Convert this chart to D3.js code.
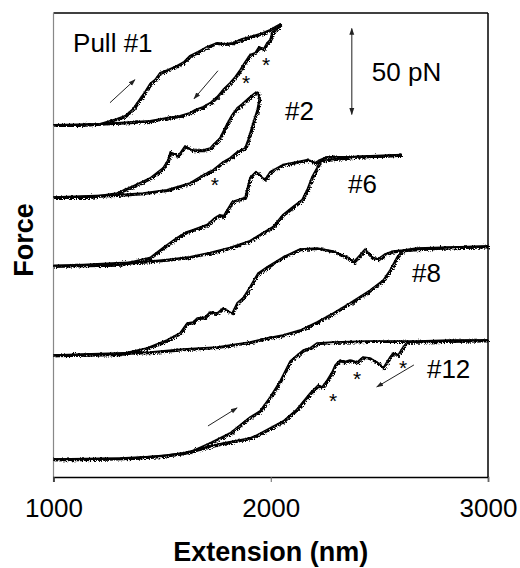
<!DOCTYPE html>
<html>
<head>
<meta charset="utf-8">
<script src="https://cdn.jsdelivr.net/npm/d3@7"></script>
<style>
  body { margin: 0; background: #fff; }
  text { font-family: "Liberation Sans", Arial, sans-serif; fill: #000; }
</style>
</head>
<body>
<svg id="chart" width="520" height="568"></svg>
<script>
// x ticks (nm)
const xTicks = [1000, 2000, 3000]

// pull names and vertical offsets of each trace baseline (pN)
const pulls = ["Pull #1", "#2", "#6", "#8", "#12"]
const offsets = [205, 163, 123, 71, 10.5]

// traces: [extension nm, force pN above baseline]
const pull1Out = [[1000,0],[1122,0],[1214,0.6],[1292,3.5],[1329,5.2],[1366,9.3],[1398,15.1],[1421,19.2],[1444,23.9],[1467,26.2],[1490,30.3],[1527,32],[1568,34.3],[1601,36.7],[1628,40.2],[1665,42.5],[1707,45.4],[1753,47.7],[1789,47.1],[1826,47.7],[1868,50],[1904,51.2],[1964,53.5],[1997,55.3],[2029,57.6],[2047,58.8]]
const pull1Back = [[2047,58.8],[2024,55.3],[2006,54],[1997,49.5],[1983,47.7],[1964,43.6],[1946,45.4],[1928,41.9],[1904,40.7],[1882,36.7],[1859,32],[1836,27.9],[1812,24.4],[1780,20.4],[1753,16.3],[1721,12.8],[1689,10.5],[1652,8.7],[1628,7],[1582,5.2],[1522,4.1],[1444,2.3],[1366,1.7],[1214,0.6],[1000,0]]

const pull2Out = [[1000,0],[1168,0],[1292,2.3],[1366,6.4],[1444,11],[1504,16.9],[1527,21.5],[1537,26.2],[1573,23.9],[1605,29.7],[1637,27.3],[1688,27.3],[1721,28.5],[1734,30.3],[1766,34.3],[1798,42.5],[1821,47.7],[1845,51.8],[1868,54.1],[1904,58.2],[1927,60.5],[1941,61.1]]
const pull2Back = [[1941,61.1],[1946,56.4],[1937,50.6],[1918,43],[1895,33.2],[1881,28.5],[1845,26.2],[1812,22.7],[1780,20.4],[1734,15.7],[1689,12.8],[1628,8.1],[1522,4.1],[1412,2.3],[1292,1.2],[1000,0]]

const pull6Out = [[1000,0],[1306,0.6],[1444,4.7],[1504,10.5],[1568,16.3],[1614,19.8],[1642,20.9],[1707,23.9],[1743,27.9],[1766,29.7],[1780,28.5],[1822,37.2],[1849,38.4],[1881,39.6],[1904,51.2],[1932,54.7],[1973,50],[1997,54.7],[2056,58.8],[2121,60.5],[2172,61.7],[2204,59.9],[2227,61.7],[2259,63.4],[2365,63.4],[2517,64],[2604,64.6]]
const pull6Back = [[2604,64.6],[2400,63.6],[2227,61.1],[2213,57],[2190,51.8],[2167,44.2],[2144,38.4],[2102,34.3],[2056,29.7],[2010,22.7],[1964,19.2],[1904,14.5],[1812,10.5],[1721,7.6],[1628,5.2],[1522,3.5],[1412,2.3],[1292,1.7],[1136,0.6],[1000,0]]

const pull8Out = [[1000,0],[1306,0.6],[1430,4.1],[1522,8.7],[1582,12.8],[1615,18.6],[1642,19.2],[1661,21.5],[1697,22.1],[1720,25],[1753,24.4],[1780,27.3],[1822,24.4],[1845,30.3],[1872,33.2],[1904,39.6],[1941,47.7],[1983,51.2],[2056,57],[2135,61.7],[2213,62.3],[2287,60.5],[2351,57],[2379,54.1],[2402,57],[2434,61.7],[2466,57],[2494,55.9],[2526,58.8],[2563,60.5],[2609,61.1],[2673,62.3],[2825,62.8],[3000,63.4]]
const pull8Back = [[3000,63.4],[2800,62.6],[2609,61.1],[2581,57],[2549,49.5],[2517,43.6],[2457,37.8],[2365,30.3],[2287,24.4],[2213,19.2],[2135,14.5],[2056,11.6],[1983,9.9],[1904,7.6],[1753,4.7],[1596,3.5],[1444,1.7],[1292,1.2],[1136,0.6],[1000,0]]

const pull12Out = [[1000,0],[1306,0.6],[1490,1.7],[1628,4.1],[1720,9.3],[1812,15.1],[1904,24.4],[1950,27.9],[1997,36.1],[2043,45.4],[2089,57],[2121,60.5],[2149,63.4],[2181,64.6],[2213,67.5],[2287,68.1],[2443,68.7],[2673,68.7],[2825,69.2],[3000,69.2]]
const pull12Back = [[3000,69.2],[2800,68.8],[2627,68.1],[2609,65.2],[2586,60.5],[2563,61.7],[2549,59.4],[2517,53],[2494,55.9],[2457,58.8],[2425,59.4],[2397,56.4],[2365,57.6],[2333,56.4],[2319,57.6],[2296,54.7],[2282,50.6],[2259,45.9],[2236,41.9],[2218,43],[2181,38.4],[2121,29.1],[2057,22.1],[1997,18],[1937,14],[1904,12.2],[1780,9.3],[1688,6.4],[1596,3.5],[1522,2.3],[1366,0.6],[1136,0],[1000,0]]

const traces = [
  [pull1Out, pull1Back],
  [pull2Out, pull2Back],
  [pull6Out, pull6Back],
  [pull8Out, pull8Back],
  [pull12Out, pull12Back]
]

// asterisks: [nm, pN above baseline, pull index]
const stars = [[1886,26.2,0],[1978,36.7,0],[1743,8.7,1],[2287,35.5,4],[2397,48.3,4],[2609,54.7,4]]

// direction arrows: [nm0, pN0, nm1, pN1, pull index]
const arrows = [[1260,12.8,1375,26.2,0],[1757,31.4,1647,15.1,0],[1711,19.2,1845,29.7,4],[2659,54.7,2488,41.9,4]]

// label anchors: [nm, pN above baseline]
const labelPos = [[1090,42.3],[2066,44.7],[2356,42.3],[2650,42.5],[2719,47.1]]

// 50 pN scale bar: [nm, from pN, to pN] in absolute force units
const scaleBar = [2373, 211, 261]

const svg = d3.select("#chart")
const margin = {top: 13, right: 32, bottom: 91, left: 53.5}
const W = 520, H = 568

const x = d3.scaleLinear().domain([1000, 3000]).range([margin.left, W - margin.right])
const y = d3.scaleLinear().domain([0, 270]).range([H - margin.bottom, H - margin.bottom - 464])

// jitter so traces look like raw data
const defs = svg.append("defs")
const filt = defs.append("filter").attr("id", "noisy").attr("filterUnits", "userSpaceOnUse")
  .attr("x", 0).attr("y", 0).attr("width", W).attr("height", H)
filt.append("feTurbulence").attr("type", "turbulence").attr("baseFrequency", 1.4)
  .attr("numOctaves", 2).attr("seed", 3).attr("result", "n")
filt.append("feDisplacementMap").attr("in", "SourceGraphic").attr("in2", "n")
  .attr("scale", 4).attr("xChannelSelector", "R").attr("yChannelSelector", "G")

defs.append("marker").attr("id", "head")
  .attr("viewBox", "0 0 10 10").attr("refX", 9).attr("refY", 5)
  .attr("markerWidth", 7).attr("markerHeight", 7).attr("orient", "auto-start-reverse")
  .attr("markerUnits", "userSpaceOnUse")
  .append("path").attr("d", "M0,1.5 L10,5 L0,8.5 Z").attr("fill", "#222")

// frame
svg.append("line").attr("x1", x(1000)).attr("x2", x(3000)).attr("y1", y(270)).attr("y2", y(270))
  .attr("stroke", "#000").attr("stroke-width", 1.5)
svg.append("line").attr("x1", x(3000)).attr("x2", x(3000)).attr("y1", y(270)).attr("y2", y(0))
  .attr("stroke", "#000").attr("stroke-width", 1.5)
svg.append("line").attr("x1", x(1000)).attr("x2", x(1000)).attr("y1", y(270)).attr("y2", y(0) + 5)
  .attr("stroke", "#888").attr("stroke-width", 1.2)

// x axis
const xAxis = svg.append("g").attr("transform", `translate(0,${y(0)})`)
  .call(d3.axisBottom(x).tickValues(xTicks).tickSize(5).tickPadding(17).tickFormat(d3.format("d")))
xAxis.select(".domain").attr("stroke", "#000").attr("stroke-width", 1.5)
xAxis.selectAll(".tick line").attr("stroke", "#666")
xAxis.selectAll("text").attr("font-size", 26).attr("font-family", "Liberation Sans, Arial, sans-serif")
  .attr("fill", "#000")

svg.append("text").attr("x", x(2000)).attr("y", 561).attr("text-anchor", "middle")
  .attr("font-size", 27).attr("font-weight", "bold").text("Extension (nm)")
svg.append("text").attr("transform", "translate(33,240) rotate(-90)").attr("text-anchor", "middle")
  .attr("font-size", 27).attr("font-weight", "bold").text("Force")

// traces: solid core + jittered halo
const line = off => d3.line().x(d => x(d[0])).y(d => y(d[1] + off))
const core = svg.append("g")
const plot = svg.append("g").attr("filter", "url(#noisy)")
traces.forEach((pair, i) => {
  pair.forEach(tr => {
    core.append("path").datum(tr).attr("d", line(offsets[i]))
      .attr("fill", "none").attr("stroke", "#000").attr("stroke-width", 1.5)
      .attr("stroke-linejoin", "round")
    plot.append("path").datum(tr).attr("d", line(offsets[i]))
      .attr("fill", "none").attr("stroke", "#000").attr("stroke-width", 2.4)
      .attr("stroke-linejoin", "round")
  })
})

// asterisks
svg.selectAll(".star").data(stars).join("text").attr("class", "star")
  .attr("x", d => x(d[0])).attr("y", d => y(d[1] + offsets[d[2]]) + 10)
  .attr("text-anchor", "middle").attr("font-size", 21).text("*")

// arrows
svg.selectAll(".arr").data(arrows).join("line").attr("class", "arr")
  .attr("x1", d => x(d[0])).attr("y1", d => y(d[1] + offsets[d[4]]))
  .attr("x2", d => x(d[2])).attr("y2", d => y(d[3] + offsets[d[4]]))
  .attr("stroke", "#222").attr("stroke-width", 1).attr("marker-end", "url(#head)")

// scale bar
svg.append("line").attr("x1", x(scaleBar[0])).attr("x2", x(scaleBar[0]))
  .attr("y1", y(scaleBar[1])).attr("y2", y(scaleBar[2]))
  .attr("stroke", "#444").attr("stroke-width", 1.2)
  .attr("marker-start", "url(#head)").attr("marker-end", "url(#head)")
svg.append("text").attr("x", x(scaleBar[0]) + 20).attr("y", y(scaleBar[1] + 25) + 10)
  .attr("font-size", 26).text("50 pN")

// pull labels
svg.selectAll(".lab").data(pulls).join("text").attr("class", "lab")
  .attr("x", (d, i) => x(labelPos[i][0])).attr("y", (d, i) => y(labelPos[i][1] + offsets[i]))
  .attr("font-size", 26).text(d => d)
</script>
</body>
</html>
